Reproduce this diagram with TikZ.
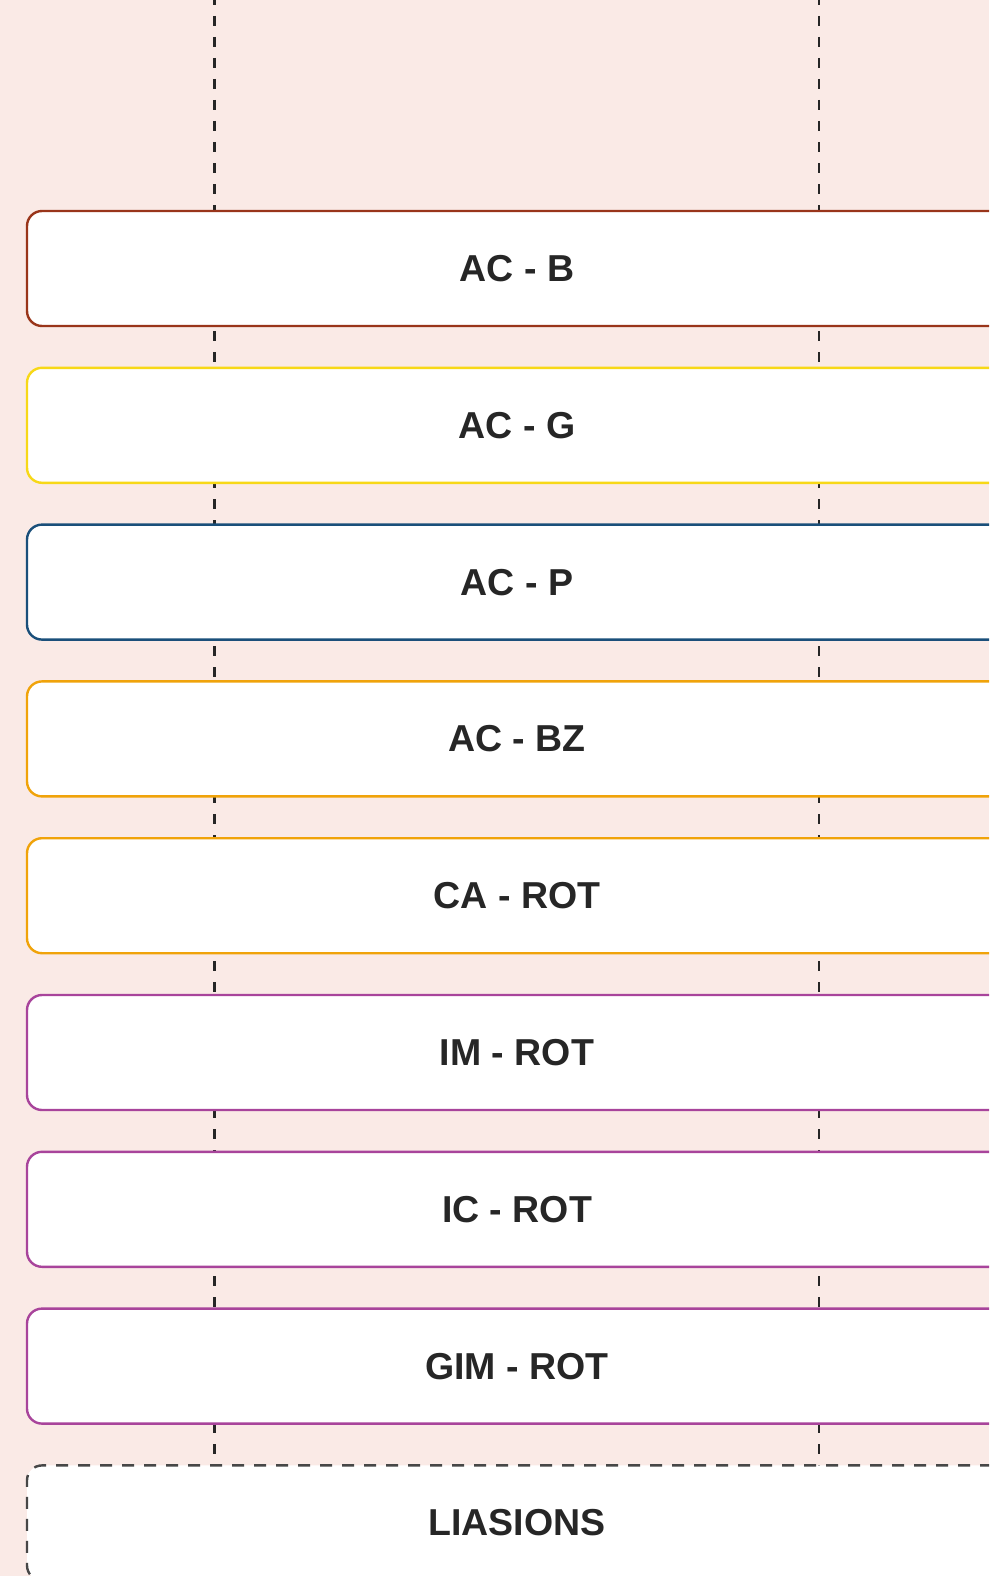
\documentclass[tikz,border=0pt]{standalone}
\usepackage{fontspec}
\setmainfont{Liberation Sans}
\usepackage{tikz}
\usetikzlibrary{positioning,backgrounds}
\definecolor{bgpink}{RGB}{250,234,230}
\definecolor{ink}{RGB}{38,38,38}
\definecolor{rust}{RGB}{153,53,26}
\definecolor{gold}{RGB}{247,216,23}
\definecolor{navy}{RGB}{26,79,122}
\definecolor{amber}{RGB}{240,163,10}
\definecolor{plum}{RGB}{168,68,155}
\tikzstyle{lane} = [rectangle, rounded corners=15pt, line width=2.4pt, fill=white, text=ink, font=\bfseries\fontsize{37.5}{40}\selectfont, minimum width=980pt, minimum height=115pt, outer sep=0pt]
\tikzstyle{lifeline} = [draw=ink, line width=2.2pt, dash pattern=on 10pt off 11pt]

\begin{document}
\begin{tikzpicture}[x=1pt, y=-1pt, node distance=41.8pt]

\useasboundingbox (0,0) rectangle (989,1576);
\clip (0,0) rectangle (989,1576);

% lanes =============================
\node[lane, draw=rust] (acb) at (517,268.5) {AC - B};
\node[lane, draw=gold, below=of acb] (acg) {AC - G};
\node[lane, draw=navy, below=of acg] (acp) {AC - P};
\node[lane, draw=amber, below=of acp] (acbz) {AC - BZ};
\node[lane, draw=amber, below=of acbz] (carot) {CA - ROT};
\node[lane, draw=plum, below=of carot] (imrot) {IM - ROT};
\node[lane, draw=plum, below=of imrot] (icrot) {IC - ROT};
\node[lane, draw=plum, below=of icrot] (gimrot) {GIM - ROT};
\node[lane, draw=ink!85, dash pattern=on 12pt off 10pt, below=of gimrot] (liaisons) {LIASIONS};

\coordinate (topL) at (214.5,-5);
\coordinate (topR) at (819,-5);

% lifelines
\begin{scope}[on background layer]
\fill[bgpink] (0,0) rectangle (989,1576);
\draw[lifeline] (topL) -- (topL |- liaisons.north);
\draw[lifeline] (topR) -- (topR |- liaisons.north);
\end{scope}

\end{tikzpicture}
\end{document}
